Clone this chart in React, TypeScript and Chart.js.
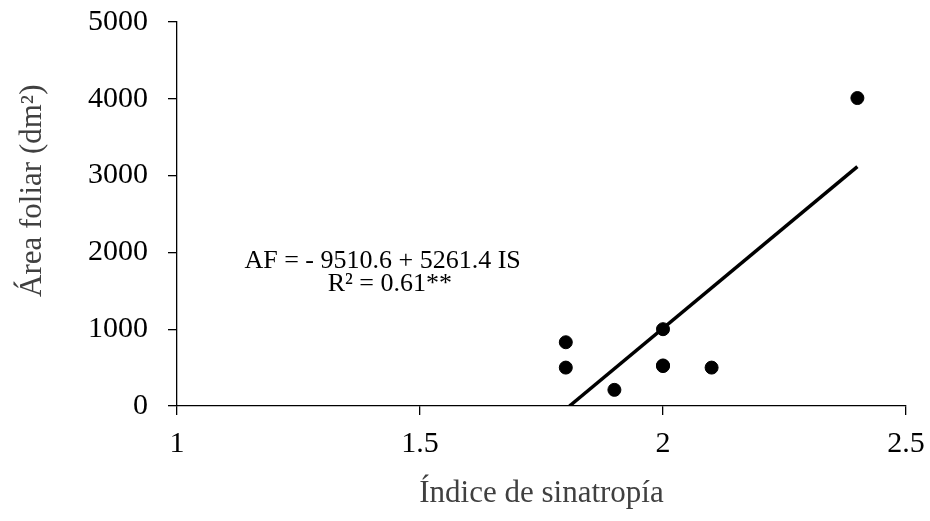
import React, { useEffect, useRef } from "react";
import { Chart, registerables } from "chart.js";

Chart.register(...registerables);

const indiceSinatropia = [1.8, 1.8, 1.9, 2.0, 2.0, 2.0, 2.1, 2.4];
const areaFoliar = [830, 500, 210, 1000, 520, 528, 500, 4010];

const trendX = [1.8076, 2.4];
const trendY = [0, 3117];

const xTickLabels = ["1", "1.5", "2", "2.5"];
const yTickLabels = ["0", "1000", "2000", "3000", "4000", "5000"];

const xTitle = "Índice de sinatropía";
const yTitle = "Área foliar (dm²)";
const equationLines = ["AF = - 9510.6 + 5261.4 IS", "R² = 0.61**"];
const equationX = [1.423, 1.438];
const equationY = [1880, 1590];

const FONT = "'Liberation Serif', 'Times New Roman', serif";

const annotationPlugin = {
  id: "equationText",
  afterDatasetsDraw(chart: any) {
    const { ctx, scales } = chart;
    ctx.save();
    ctx.fillStyle = "#000";
    ctx.font = `26px ${FONT}`;
    ctx.textAlign = "center";
    ctx.textBaseline = "middle";
    equationLines.forEach((t, i) => {
      ctx.fillText(t, scales.x.getPixelForValue(equationX[i]), scales.y.getPixelForValue(equationY[i]));
    });
    ctx.restore();
  },
};

export default function App() {
  const ref = useRef<HTMLCanvasElement | null>(null);
  useEffect(() => {
    if (!ref.current) return;
    const chart = new Chart(ref.current, {
      type: "scatter",
      data: {
        datasets: [
          {
            label: "Datos",
            data: indiceSinatropia.map((x, i) => ({ x, y: areaFoliar[i] })),
            backgroundColor: "#000",
            borderColor: "#000",
            pointRadius: 6.5,
            pointHoverRadius: 6.5,
            order: 2,
          },
          {
            label: "Regresión",
            type: "line",
            data: trendX.map((x, i) => ({ x, y: trendY[i] })),
            borderColor: "#000",
            backgroundColor: "#000",
            borderWidth: 3.5,
            pointRadius: 0,
            showLine: true,
            fill: false,
            order: 1,
          } as any,
        ],
      },
      options: {
        responsive: false,
        animation: false,
        layout: { padding: { top: 22, right: 24, bottom: 0, left: 0 } },
        plugins: {
          legend: { display: false },
          tooltip: { enabled: false },
        },
        scales: {
          x: {
            type: "linear",
            min: 1,
            max: 2.5,
            afterFit: (s: any) => {
              s.height = 115;
              s.paddingLeft = 0;
              s.paddingRight = 0;
            },
            ticks: {
              stepSize: 0.5,
              color: "#000",
              padding: 11,
              font: { family: FONT, size: 30 },
              callback: (_v: any, i: number) => xTickLabels[i],
            },
            grid: {
              drawOnChartArea: false,
              drawTicks: true,
              tickLength: 9,
              color: "#000",
              lineWidth: 1.3,
            },
            border: { display: true, color: "#000", width: 1.3 },
            title: {
              display: true,
              text: xTitle,
              color: "#404040",
              font: { family: FONT, size: 31 },
              padding: { top: 0, bottom: 9 },
            },
          },
          y: {
            type: "linear",
            min: 0,
            max: 5000,
            afterFit: (s: any) => {
              s.width = 177;
              s.paddingTop = 0;
              s.paddingBottom = 0;
            },
            ticks: {
              stepSize: 1000,
              color: "#000",
              padding: 20,
              font: { family: FONT, size: 30 },
              callback: (_v: any, i: number) => yTickLabels[i],
            },
            grid: {
              drawOnChartArea: false,
              drawTicks: true,
              tickLength: 9,
              color: "#000",
              lineWidth: 1.3,
            },
            border: { display: true, color: "#000", width: 1.3 },
            title: {
              display: true,
              text: "\u00a0\u00a0\u00a0\u00a0\u00a0\u00a0" + yTitle,
              color: "#404040",
              font: { family: FONT, size: 31 },
              padding: { top: 14, bottom: 0 },
            },
          },
        },
      },
      plugins: [annotationPlugin],
    });
    return () => chart.destroy();
  }, []);
  return (
    <div style={{ position: "absolute", left: 0, top: 0, width: 930, height: 521, background: "#fff" }}>
      <canvas ref={ref} width={930} height={521} />
    </div>
  );
}
